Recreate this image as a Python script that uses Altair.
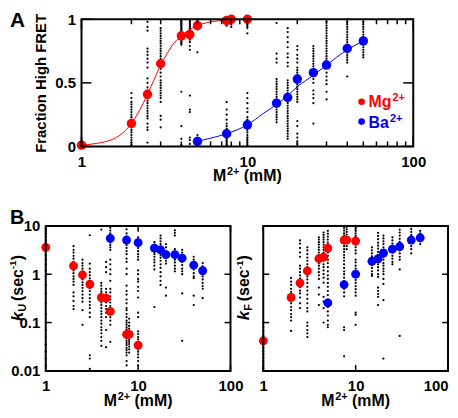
import altair as alt
import pandas as pd

FONT = "Liberation Sans"
RED = "#ff0000"
BLUE = "#0000ff"

# ---------------- data ----------------
MG_X = [1, 2, 2.5, 3, 4, 4.5, 5, 7.5, 8, 10]
BA_X = [5, 7.5, 10, 15, 17.5, 20, 25, 30, 40, 50]

MG_FRAC = [0.01, 0.18, 0.41, 0.65, 0.87, 0.88, 0.95, 0.99, 1.0, 1.0]
BA_FRAC = [0.04, 0.10, 0.17, 0.34, 0.385, 0.53, 0.58, 0.64, 0.77, 0.83]

MG_KU = [3.6, 1.49, 0.97, 0.62, 0.33, 0.32, 0.17, 0.057, 0.057, 0.034]
BA_KU = [5.5, 5.1, 4.5, 3.47, 3.2, 2.55, 2.55, 2.15, 1.54, 1.18]

MG_KF = [0.042, 0.33, 0.66, 1.17, 2.1, 2.26, 3.47, 5.1, 5.1, 4.86]
BA_KF = [0.255, 0.61, 1.0, 1.85, 2.09, 2.75, 3.3, 3.74, 5.1, 5.67]

MG_FIT_X = [1, 1.25, 1.5, 1.75, 2, 2.25, 2.5, 2.75, 3, 3.25, 3.5, 4, 4.5, 5, 6, 7, 8, 10]
MG_FIT_Y = [0.01, 0.025, 0.05, 0.10, 0.18, 0.29, 0.41, 0.53, 0.64, 0.72, 0.79, 0.87, 0.92, 0.95, 0.98, 0.99, 0.995, 1.0]
BA_FIT_X = [5, 6, 7.5, 10, 12.5, 15, 17.5, 20, 25, 30, 40, 50]
BA_FIT_Y = [0.04, 0.065, 0.10, 0.17, 0.26, 0.33, 0.40, 0.47, 0.56, 0.64, 0.76, 0.83]

FRAC_DOTS_MG = {
    2: [0.42, 0.38, 0.35, 0.33, 0.31, 0.29, 0.27, 0.25, 0.23, 0.21, 0.19, 0.17, 0.15, 0.13, 0.11, 0.09, 0.07, 0.05, 0.03, 0.01],
    2.5: [0.98, 0.94, 0.91, 0.77, 0.745, 0.72, 0.69, 0.66, 0.62, 0.535, 0.50, 0.465, 0.44, 0.42, 0.40, 0.38, 0.36, 0.34, 0.32, 0.30, 0.28, 0.26, 0.24, 0.22, 0.18, 0.15, 0.13, 0.03],
    3: [0.93, 0.91, 0.89, 0.87, 0.85, 0.83, 0.81, 0.79, 0.77, 0.75, 0.73, 0.71, 0.69, 0.67, 0.63, 0.61, 0.58, 0.55, 0.52, 0.50, 0.48, 0.46, 0.44, 0.42, 0.40, 0.38, 0.35, 0.24, 0.21, 0.15],
    4: [1.0, 0.99, 0.98, 0.97, 0.96, 0.95, 0.94, 0.93, 0.92, 0.91, 0.90, 0.89, 0.88, 0.87, 0.86, 0.85, 0.84, 0.83, 0.82, 0.81, 0.80, 0.43, 0.16, 0.06, 0.01],
    4.5: [1.0, 0.99, 0.98, 0.97, 0.96, 0.95, 0.94, 0.93, 0.92, 0.91, 0.90, 0.89, 0.88, 0.86, 0.84, 0.82, 0.79, 0.76, 0.40, 0.29, 0.27, 0.07, 0.05, 0.02],
    5: [1.0, 0.99, 0.98, 0.97, 0.96, 0.94, 0.92, 0.74],
    7.5: [1.0, 0.99, 0.98, 0.97, 0.96, 0.95],
    8: [1.0, 0.99, 0.98, 0.97, 0.96, 0.94],
    10: [1.0, 0.99, 0.98, 0.97, 0.96, 0.94, 0.89],
}
FRAC_DOTS_BA = {
    5: [0.09, 0.07, 0.06, 0.05, 0.04, 0.03, 0.02, 0.01],
    7.5: [0.35, 0.29, 0.25, 0.21, 0.18, 0.16, 0.14, 0.13, 0.12, 0.11, 0.10, 0.09, 0.08, 0.07, 0.06, 0.05, 0.04, 0.03, 0.02, 0.01],
    10: [0.42, 0.38, 0.34, 0.30, 0.27, 0.23, 0.21, 0.19, 0.17, 0.15, 0.13, 0.11, 0.09, 0.07, 0.05, 0.03, 0.01],
    15: [0.97, 0.73, 0.69, 0.66, 0.53, 0.51, 0.49, 0.47, 0.45, 0.43, 0.41, 0.39, 0.37, 0.35, 0.33, 0.31, 0.29, 0.27, 0.25, 0.23, 0.21, 0.19],
    17.5: [0.93, 0.90, 0.86, 0.82, 0.78, 0.73, 0.70, 0.66, 0.63, 0.52, 0.50, 0.48, 0.46, 0.44, 0.42, 0.40, 0.38, 0.36, 0.34, 0.32, 0.30, 0.28, 0.26, 0.24, 0.22, 0.20, 0.18, 0.16, 0.14, 0.12, 0.10, 0.08, 0.06],
    20: [0.79, 0.76, 0.72, 0.69, 0.66, 0.62, 0.60, 0.58, 0.56, 0.54, 0.51, 0.49, 0.47, 0.45, 0.43, 0.41, 0.39, 0.37, 0.35, 0.20, 0.16, 0.10, 0.07, 0.04, 0.02],
    25: [0.79, 0.77, 0.75, 0.73, 0.71, 0.69, 0.67, 0.65, 0.63, 0.61, 0.59, 0.56, 0.53, 0.50, 0.44, 0.41, 0.38, 0.34, 0.18],
    30: [0.98, 0.95, 0.93, 0.91, 0.89, 0.87, 0.85, 0.83, 0.81, 0.79, 0.77, 0.75, 0.73, 0.71, 0.69, 0.67, 0.65, 0.62, 0.58, 0.55, 0.52, 0.49, 0.43, 0.37],
    40: [1.0, 0.98, 0.96, 0.94, 0.92, 0.90, 0.88, 0.86, 0.84, 0.82, 0.80, 0.78, 0.76, 0.74, 0.72, 0.70, 0.68, 0.66, 0.55],
    50: [0.98, 0.96, 0.94, 0.92, 0.90, 0.88, 0.86, 0.84, 0.82, 0.80, 0.78, 0.76, 0.74, 0.72, 0.70],
}

KU_DOTS_MG = {
    1: [9, 8, 7, 6, 5, 4.5, 4, 3.5, 3, 2.5, 2, 1.6, 1.2, 0.9, 0.6, 0.4, 0.25, 0.15, 0.1, 0.07, 0.05, 0.035, 0.025, 0.018, 0.013],
    2: [3.8, 3.2, 2.8, 2.4, 2.1, 1.8, 1.6, 1.4, 1.2, 1.05, 0.9, 0.8, 0.7, 0.6, 0.42, 0.35, 0.28, 0.22, 0.19],
    2.5: [2.0, 1.7, 1.5, 1.3, 1.15, 1.0, 0.88, 0.78, 0.68, 0.6, 0.52, 0.45, 0.38, 0.32, 0.27, 0.18, 0.09],
    3: [6.4, 1.65, 1.3, 1.1, 0.95, 0.82, 0.7, 0.6, 0.52, 0.45, 0.38, 0.32, 0.27, 0.23, 0.2, 0.16, 0.13, 0.021, 0.018, 0.011],
    4: [8.4, 0.66, 0.58, 0.5, 0.44, 0.4, 0.36, 0.32, 0.29, 0.26, 0.23, 0.2, 0.17, 0.15, 0.13, 0.11, 0.095, 0.08, 0.07, 0.06, 0.05, 0.042, 0.033],
    4.5: [1.8, 1.4, 1.1, 0.5, 0.42, 0.36, 0.3, 0.26, 0.22, 0.19, 0.16, 0.13, 0.07, 0.031],
    5: [0.73, 0.5, 0.42, 0.35, 0.3, 0.26, 0.22, 0.19, 0.15, 0.13, 0.11, 0.09, 0.04],
    7.5: [0.18, 0.15, 0.13, 0.11, 0.1, 0.09, 0.08, 0.072, 0.065, 0.058, 0.052, 0.047, 0.042, 0.038, 0.034, 0.03, 0.027, 0.024, 0.021, 0.016, 0.013],
    8: [0.12, 0.1, 0.085, 0.075, 0.068, 0.06, 0.054, 0.049, 0.044, 0.04, 0.036, 0.032, 0.028, 0.024],
    10: [0.066, 0.058, 0.05, 0.045, 0.04, 0.036, 0.032, 0.028, 0.025, 0.022, 0.019, 0.016, 0.013],
}
KU_DOTS_BA = {
    5: [9.1, 8, 7, 6.5, 6, 5, 4.5, 4, 3.6, 3.2, 2.0, 1.6, 1.26, 1.0],
    7.5: [8.5, 7, 6, 4.5, 4, 3.5, 3, 2.6, 2.1, 1.8, 1.3, 1.0, 0.58, 0.45, 0.38, 0.3, 0.25, 0.2],
    10: [5.8, 5.2, 4, 3.5, 3, 2.6, 2.3, 2.0, 1.2, 1.0, 0.8, 0.7, 0.55, 0.45, 0.33, 0.16, 0.13],
    15: [4.6, 4.1, 3.8, 3.5, 3.2, 2.9, 2.6, 2.3, 2.0, 1.75, 1.5, 1.26, 0.21],
    17.5: [6.3, 5.5, 4.8, 4.2, 3.7, 3.3, 2.9, 2.5, 2.2, 1.9, 1.6, 1.35, 1.1, 0.9, 0.73, 0.6],
    20: [4.2, 3.6, 3.0, 2.6, 2.2, 1.9, 1.66, 0.53, 0.36],
    25: [8.1, 7.2, 6.3, 3.3, 2.9, 2.6, 2.3, 2.0, 1.75, 1.5, 1.3, 1.15],
    30: [3.2, 2.8, 2.4, 2.1, 1.8, 1.55, 1.3, 1.15, 1.0, 0.4, 0.042],
    40: [2.3, 2.0, 1.7, 1.45, 1.25, 1.05, 0.9, 0.83, 0.36, 0.23],
    50: [1.7, 1.45, 1.25, 1.05, 0.9, 0.78, 0.66, 0.57, 0.5, 0.32],
}

KF_DOTS_MG = {
    1: [0.1, 0.08, 0.065, 0.055, 0.042, 0.035, 0.03, 0.026, 0.022, 0.019, 0.016, 0.014, 0.012, 0.011],
    2: [0.84, 0.7, 0.6, 0.5, 0.43, 0.38, 0.33, 0.29, 0.25, 0.21, 0.18, 0.15, 0.13, 0.11, 0.067],
    2.5: [5.0, 4.3, 3.5, 2.8, 2.3, 1.5, 1.3, 1.1, 0.95, 0.82, 0.72, 0.62, 0.54, 0.46, 0.4, 0.33, 0.25, 0.2],
    3: [3.6, 3.1, 2.6, 2.2, 1.9, 1.6, 1.4, 1.2, 1.05, 0.9, 0.78, 0.66, 0.55, 0.46, 0.38, 0.31, 0.25, 0.2, 0.17, 0.1, 0.085, 0.07, 0.06, 0.05],
    4: [5.8, 5.2, 4.6, 4.1, 3.6, 3.2, 2.8, 2.5, 2.2, 1.9, 1.7, 1.5, 1.3, 1.1, 0.95, 0.8, 0.53, 0.38, 0.23],
    4.5: [7.3, 6.5, 5.8, 5.2, 4.6, 4.1, 3.6, 3.2, 2.8, 2.5, 2.2, 1.9, 1.6, 1.4, 1.2, 1.0, 0.85, 0.67, 0.34, 0.27, 0.2, 0.1],
    5: [7.9, 6.9, 6, 5.2, 4.5, 3.9, 3.3, 2.8, 2.4, 2.0],
    7.5: [10, 9, 8, 7, 6.3, 5.6, 4.9, 4.3, 3.8, 3.3, 2.9, 2.5],
    8: [9.5, 8.5, 7.5, 6.6, 5.8, 5, 4.4, 3.8, 3.3],
    10: [10, 9, 8, 7, 6.2, 5.4, 4.7, 4.1, 3.6, 3.1, 2.7],
}
KF_DOTS_BA = {
    5: [1.7, 1.4, 1.15, 0.95, 0.8, 0.66, 0.55, 0.45, 0.37, 0.3, 0.25, 0.21, 0.17, 0.14, 0.11, 0.09, 0.08],
    7.5: [2.2, 1.9, 1.6, 1.35, 1.15, 1.0, 0.85, 0.72, 0.6, 0.5, 0.42, 0.35, 0.08, 0.07, 0.02],
    10: [2.0, 1.75, 1.5, 1.3, 1.15, 1.0, 0.88, 0.76, 0.66, 0.57, 0.49, 0.42, 0.36, 0.16, 0.145, 0.09],
    15: [3.6, 3.1, 2.7, 2.35, 2.05, 1.8, 1.55, 1.35, 1.15, 1.0, 0.92],
    17.5: [7.2, 6.2, 5.3, 4.5, 3.9, 3.4, 2.9, 2.5, 2.2, 1.9, 1.6, 1.4, 1.2, 1.0, 0.88, 0.53, 0.45, 0.39, 0.34, 0.23],
    20: [6.3, 5.5, 4.8, 4.2, 3.6, 3.1, 2.7, 2.3, 2.0, 1.7, 1.5, 1.3, 1.15, 1.0, 0.8, 0.63, 0.29, 0.018],
    25: [5.8, 5, 4.3, 3.7, 3.2, 2.8, 2.4, 2.1, 1.8, 1.6],
    30: [8.4, 7.3, 6.3, 5.4, 4.7, 4.1, 3.6, 3.1, 2.7, 2.3, 2.0, 1.26, 0.053],
    40: [9.8, 8.6, 7.5, 6.5, 5.7, 5, 4.4, 3.8, 3.3, 2.7],
    50: [7.9, 7, 6.2, 5.5, 4.8, 4.2],
}

X_TICKS_MAJOR = [1, 10, 100]
X_TICKS_MINOR = [2, 3, 4, 5, 6, 7, 8, 9, 20, 30, 40, 50, 60, 70, 80, 90]
FRAC_TICKS = [0, 0.5, 1]
RATE_TICKS = [0.01, 0.1, 1, 10]


def dots_df(*dicts):
    rows = []
    for d in dicts:
        for x, vals in d.items():
            for v in vals:
                rows.append({"x": x, "y": v})
    return pd.DataFrame(rows)


def pts_df(mg_y, ba_y):
    return pd.DataFrame(
        {"x": MG_X + BA_X, "y": mg_y + ba_y, "s": ["Mg"] * len(MG_X) + ["Ba"] * len(BA_X)}
    )


ONE = pd.DataFrame({"d": [0]})


def txt(x, y, s, size=16, color="black", angle=0, italic=False, align="left"):
    kw = dict(align=align, baseline="alphabetic", font=FONT, fontSize=size,
              fontWeight="bold", color=color, angle=angle)
    if italic:
        kw["fontStyle"] = "italic"
    return alt.Chart(ONE).mark_text(**kw).encode(x=alt.value(x), y=alt.value(y), text=alt.value(s))


def mtitle(cx, yb):
    x0 = cx - 34.5
    return [txt(x0, yb, "M", 16), txt(x0 + 14.0, yb - 6, "2+", 11), txt(x0 + 30.9, yb, "(mM)", 16)]


def ktitle(bx, y0, sub, subw):
    y1 = y0 - 9.5 - subw - 3
    y2 = y1 - 32.0
    return [
        txt(bx, y0, "k", 17, angle=270, italic=True),
        txt(bx + 3, y0 - 9.5, sub, 11, angle=270),
        txt(bx, y1, "(sec", 16, angle=270),
        txt(bx - 6.5, y2, "-1", 10, angle=270),
        txt(bx, y2 - 8.9, ")", 16, angle=270),
    ]


def frame(W, H):
    return alt.Chart(ONE).mark_rect(filled=False, stroke="black", strokeWidth=2).encode(
        x=alt.value(0), x2=alt.value(W), y=alt.value(0), y2=alt.value(H))


def tick_layers(X, Y, xmaj, xmin, ymaj, lmaj, lmin, W, H):
    layers = []
    for vals, ln in ((xmaj, lmaj), (xmin, lmin)):
        if not vals:
            continue
        df = pd.DataFrame({"x": vals})
        layers.append(alt.Chart(df).mark_rule(color="black", strokeWidth=1.5).encode(
            x=X, y=alt.value(H), y2=alt.value(H - ln)))
        layers.append(alt.Chart(df).mark_rule(color="black", strokeWidth=1.5).encode(
            x=X, y=alt.value(0), y2=alt.value(ln)))
    df = pd.DataFrame({"y": ymaj})
    layers.append(alt.Chart(df).mark_rule(color="black", strokeWidth=1.5).encode(
        y=Y, x=alt.value(0), x2=alt.value(lmaj)))
    layers.append(alt.Chart(df).mark_rule(color="black", strokeWidth=1.5).encode(
        y=Y, x=alt.value(W), x2=alt.value(W - lmaj)))
    return layers


LBL = dict(labelFont=FONT, labelFontSize=15, labelFontWeight="bold", labelColor="black",
           ticks=False, domain=False, grid=False, title=None)

COLOR = alt.Color("s:N", scale=alt.Scale(domain=["Mg", "Ba"], range=[RED, BLUE]), legend=None)

# ---------------- panel A ----------------
WA, HA = 334, 128
XA = alt.X("x:Q", scale=alt.Scale(type="log", domain=[1, 100], nice=False),
           axis=alt.Axis(values=X_TICKS_MAJOR, format="~g", labelPadding=8, labelFlush=False, **LBL))
YA = alt.Y("y:Q", scale=alt.Scale(domain=[0, 1], nice=False, zero=False),
           axis=alt.Axis(values=FRAC_TICKS, format="~g", labelPadding=6,
                         labelFont=FONT, labelFontSize=15, labelFontWeight="bold", labelColor="black",
                         ticks=False, domain=False, grid=False,
                         title="Fraction High FRET", titleFont=FONT, titleFontSize=15,
                         titleFontWeight="bold", titleColor="black", titlePadding=6))

a_layers = [
    alt.Chart(dots_df(FRAC_DOTS_MG, FRAC_DOTS_BA)).mark_circle(size=5, color="black", opacity=1).encode(x=XA, y=YA),
    alt.Chart(pd.DataFrame({"x": MG_FIT_X, "y": MG_FIT_Y})).mark_line(color=RED, strokeWidth=1, interpolate="monotone").encode(x=XA, y=YA),
    alt.Chart(pd.DataFrame({"x": BA_FIT_X, "y": BA_FIT_Y})).mark_line(color=BLUE, strokeWidth=1, interpolate="monotone").encode(x=XA, y=YA),
    alt.Chart(pts_df(MG_FRAC, BA_FRAC)).mark_circle(size=90, opacity=1).encode(x=XA, y=YA, color=COLOR),
]
a_layers += tick_layers(XA, YA, X_TICKS_MAJOR, X_TICKS_MINOR, FRAC_TICKS, 10, 5, WA, HA)
a_layers += [
    frame(WA, HA),
    txt(-72, 8, "A", 21),
    alt.Chart(ONE).mark_circle(size=45, color=RED, opacity=1).encode(x=alt.value(282), y=alt.value(83)),
    alt.Chart(ONE).mark_circle(size=45, color=BLUE, opacity=1).encode(x=alt.value(282), y=alt.value(103)),
    txt(289, 88, "Mg", 16, RED), txt(313, 82, "2+", 11, RED),
    txt(289, 109, "Ba", 16, BLUE), txt(310.5, 103, "2+", 11, BLUE),
]
a_layers += mtitle(WA / 2, HA + 35)
panel_a = alt.layer(*a_layers).properties(width=WA, height=HA)

spacer = alt.Chart(ONE).mark_point(opacity=0).encode(
    x=alt.value(0), y=alt.value(0)
).properties(width=30, height=HA)

row_a = alt.hconcat(spacer, panel_a, spacing=6, bounds="flush")

# ---------------- panel B ----------------
WB, HB = 186, 146
XS_B = alt.Scale(type="log", domain=[1, 100], nice=False)
YS_B = alt.Scale(type="log", domain=[0.01, 10], nice=False)

XBL = alt.X("x:Q", scale=XS_B, axis=alt.Axis(values=X_TICKS_MAJOR, format="~g", labelPadding=8, labelFlush=False, **LBL))
YBL = alt.Y("y:Q", scale=YS_B, axis=alt.Axis(values=RATE_TICKS, format="~g", labelPadding=6, **LBL))
XBR = alt.X("x:Q", scale=XS_B, axis=alt.Axis(
    values=X_TICKS_MAJOR, format="~g", labelPadding=8, labelFlush=False,
    labelAlign={"condition": {"test": "datum.value >= 100", "value": "right"}, "value": "center"}, **LBL))
YBR = alt.Y("y:Q", scale=YS_B, axis=None)

bl_layers = [
    alt.Chart(dots_df(KU_DOTS_MG, KU_DOTS_BA)).mark_circle(size=5, color="black", opacity=1).encode(x=XBL, y=YBL),
    alt.Chart(pts_df(MG_KU, BA_KU)).mark_circle(size=80, opacity=1).encode(x=XBL, y=YBL, color=COLOR),
]
bl_layers += tick_layers(XBL, YBL, X_TICKS_MAJOR, [], RATE_TICKS, 6, 0, WB, HB)
bl_layers += [frame(WB, HB), txt(-36, -2, "B", 20)]
bl_layers += ktitle(-23, 96, "U", 7.9)
bl_layers += mtitle(WB / 2, HB + 35)
panel_bl = alt.layer(*bl_layers).properties(width=WB, height=HB)

br_layers = [
    alt.Chart(dots_df(KF_DOTS_MG, KF_DOTS_BA)).mark_circle(size=5, color="black", opacity=1).encode(x=XBR, y=YBR),
    alt.Chart(pts_df(MG_KF, BA_KF)).mark_circle(size=80, opacity=1).encode(x=XBR, y=YBR, color=COLOR),
]
br_layers += tick_layers(XBR, YBR, X_TICKS_MAJOR, [], RATE_TICKS, 6, 0, WB, HB)
br_layers += [frame(WB, HB)]
br_layers += ktitle(-14, 95, "F", 6.7)
br_layers += mtitle(WB / 2, HB + 35)
panel_br = alt.layer(*br_layers).properties(width=WB, height=HB)

row_b = alt.hconcat(panel_bl, panel_br, spacing=33, bounds="flush")

chart = alt.vconcat(row_a, row_b, spacing=22, padding=0, background="white").configure_view(
    stroke="transparent"
)

chart.save("out.html", embed_options={"renderer": "svg", "actions": False})
